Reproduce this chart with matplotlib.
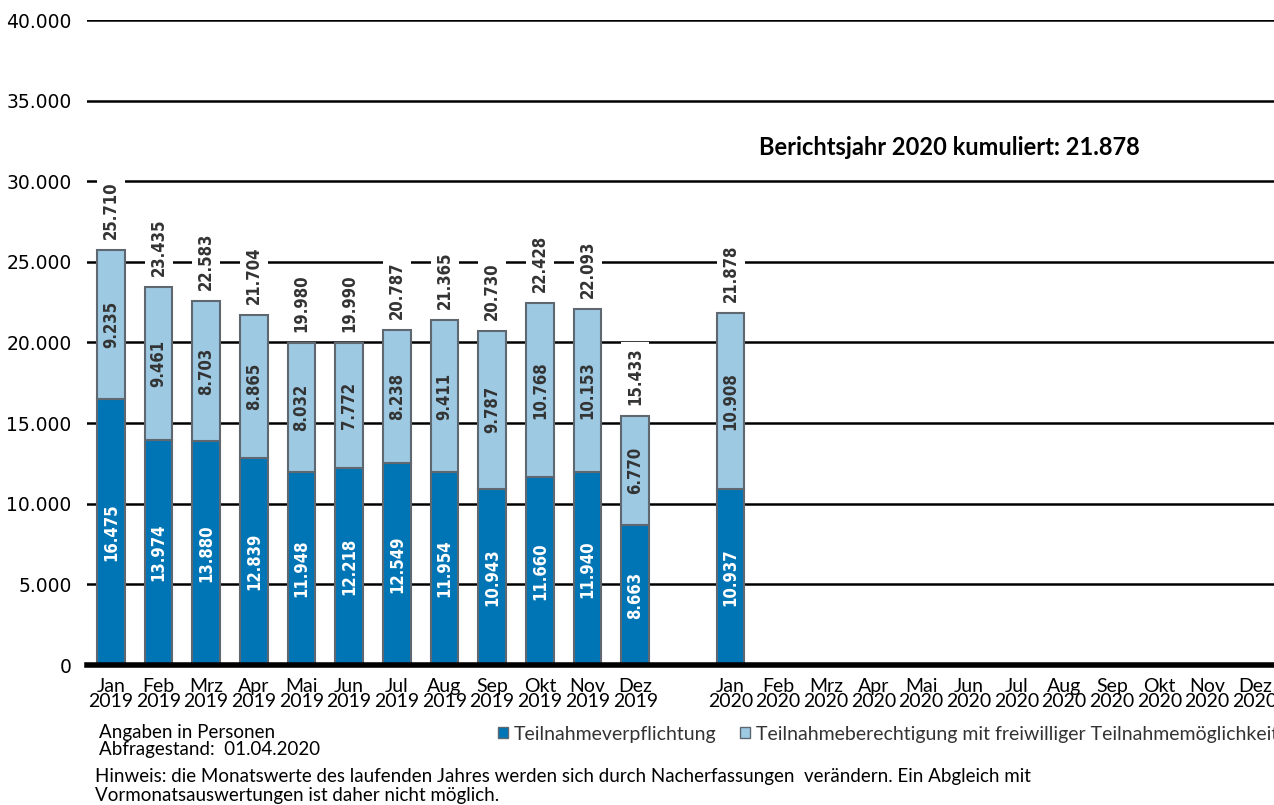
import matplotlib
matplotlib.use("Agg")
import matplotlib.pyplot as plt
from matplotlib.patches import Patch
from matplotlib import font_manager as fm
import numpy as np

months = ['Jan', 'Feb', 'Mrz', 'Apr', 'Mai', 'Jun', 'Jul', 'Aug', 'Sep', 'Okt', 'Nov', 'Dez']
years = ['2019', '2020']
pflicht_2019 = [16475, 13974, 13880, 12839, 11948, 12218, 12549, 11954, 10943, 11660, 11940, 8663]
freiwillig_2019 = [9235, 9461, 8703, 8865, 8032, 7772, 8238, 9411, 9787, 10768, 10153, 6770]
gesamt_2019 = [25710, 23435, 22583, 21704, 19980, 19990, 20787, 21365, 20730, 22428, 22093, 15433]
pflicht_2020 = [10937]
freiwillig_2020 = [10908]
gesamt_2020 = [21878]
kumuliert_2020 = 21878

legend_labels = ['Teilnahmeverpflichtung', 'Teilnahmeberechtigung mit freiwilliger Teilnahmemöglichkeit']
y_ticks = [0, 5000, 10000, 15000, 20000, 25000, 30000, 35000, 40000]

DARK = '#0075B5'
LIGHT = '#9DC9E3'
EDGE = '#5f6870'
TXT = '#333333'
FOOT_FONT = ['Lato', 'DejaVu Sans']

# condensed bold for value labels if available
cond = [f for f in fm.fontManager.ttflist if 'DejaVu Sans' in f.name and f.stretch == 'condensed' and f.weight == 700]
if cond:
    LBL_PROP = dict(fontproperties=fm.FontProperties(fname=cond[0].fname, size=12))
else:
    LBL_PROP = dict(fontsize=10.5, fontweight='bold')


def de(v):
    return f"{v:,}".replace(',', '.')


fig = plt.figure(figsize=(12.74, 8.05), dpi=100)
ax = fig.add_axes([87 / 1274, 140 / 805, 1 - 87 / 1274, 645 / 805])

pos_2019 = np.arange(12)
pos_2020 = np.arange(12) + 13
pos_2020_data = pos_2020[:len(pflicht_2020)]

xs = list(pos_2019) + list(pos_2020_data)
p = pflicht_2019 + pflicht_2020
f = freiwillig_2019 + freiwillig_2020
tot = gesamt_2019 + gesamt_2020

w = 0.58
ax.bar(xs, p, width=w, color=DARK, edgecolor=EDGE, linewidth=1.5, zorder=3)
ax.bar(xs, f, width=w, bottom=p, color=LIGHT, edgecolor=EDGE, linewidth=1.5, zorder=3)

for x, a, b, t in zip(xs, p, f, tot):
    ax.text(x, a / 2, de(a), rotation=90, ha='center', va='center', color='white',
            zorder=4, **LBL_PROP)
    ax.text(x, a + b / 2, de(b), rotation=90, ha='center', va='center', color=TXT,
            zorder=4, **LBL_PROP)
    ax.annotate(de(t), (x, a + b), xytext=(0, 8), textcoords='offset points', rotation=90,
                ha='center', va='bottom', color=TXT, zorder=4,
                bbox=dict(boxstyle='square,pad=0.3', fc='white', ec='none'), **LBL_PROP)

ax.set_ylim(0, 40000)
ax.set_xlim(-0.5, 24.4)
ax.set_yticks(y_ticks)
ax.set_yticklabels([de(v) for v in y_ticks], fontsize=13.5, color='black')
ax.tick_params(axis='y', length=0, pad=11)
ax.set_xticks(list(pos_2019) + list(pos_2020))
ax.set_xticklabels([f"{m}\n{years[0]}" for m in months] + [f"{m}\n{years[1]}" for m in months],
                   fontsize=14, family=FOOT_FONT, linespacing=0.9)
ax.tick_params(axis='x', length=0, pad=9)
ax.grid(axis='y', color='black', linewidth=1.8, zorder=0)
ax.set_axisbelow(True)
for s in ['top', 'right', 'left']:
    ax.spines[s].set_visible(False)
ax.spines['bottom'].set_linewidth(4)
ax.spines['bottom'].set_zorder(5)

ax.text(17.6, 32100, 'Berichtsjahr 2020 kumuliert: ' + de(kumuliert_2020), ha='center', va='center',
        fontsize=17, fontweight='bold', family=FOOT_FONT, color='black')

fig.text(99 / 1274, 1 - 732 / 805, 'Angaben in Personen', fontsize=13.5, family=FOOT_FONT, va='center')
fig.text(99 / 1274, 1 - 749 / 805, 'Abfragestand:  01.04.2020', fontsize=13.5, family=FOOT_FONT, va='center')
fig.text(95 / 1274, 1 - 776 / 805, 'Hinweis: die Monatswerte des laufenden Jahres werden sich durch Nacherfassungen  verändern. Ein Abgleich mit',
         fontsize=13.5, family=FOOT_FONT, va='center')
fig.text(95 / 1274, 1 - 795 / 805, 'Vormonatsauswertungen ist daher nicht möglich.',
         fontsize=13.5, family=FOOT_FONT, va='center')

handles = [Patch(facecolor=DARK, edgecolor=EDGE, linewidth=1), Patch(facecolor=LIGHT, edgecolor=EDGE, linewidth=1)]
fig.legend(handles, legend_labels, loc='center left', bbox_to_anchor=(481 / 1274, 1 - 734 / 805),
           ncol=2, frameon=False, handlelength=0.5, handleheight=0.5, handletextpad=0.3,
           columnspacing=1.2, prop={'family': FOOT_FONT, 'size': 14}, labelcolor='#333333')

fig.savefig('out.png', dpi=100)
